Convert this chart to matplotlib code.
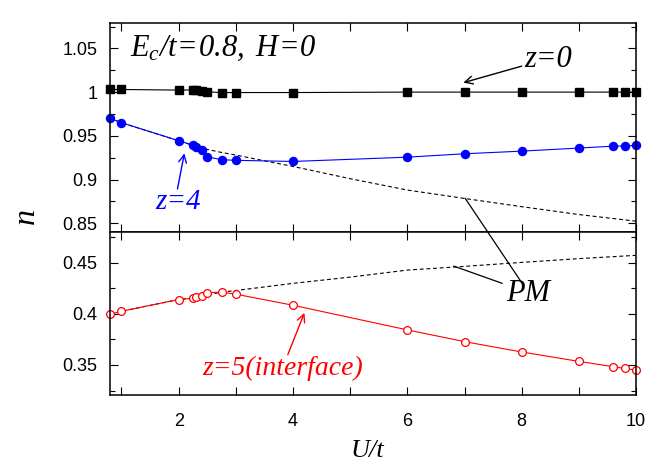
import matplotlib
matplotlib.use('Agg')
import matplotlib.pyplot as plt
from matplotlib.ticker import MultipleLocator, FixedLocator

plt.rcParams['font.family'] = 'Liberation Sans'
plt.rcParams['mathtext.fontset'] = 'custom'
plt.rcParams['mathtext.rm'] = 'Liberation Serif:italic'
plt.rcParams['mathtext.it'] = 'Liberation Serif:italic'

# data
U = [0.8, 1.0, 2.0, 2.25, 2.3, 2.4, 2.5, 2.75, 3.0, 4.0, 6.0, 7.0, 8.0, 9.0, 9.6, 9.8, 10.0]
n_z0 = [1.003, 1.003, 1.0023, 1.0025, 1.002, 1.0015, 1.0005, 0.9993, 0.9995, 0.9995,
        1.0, 1.0, 1.0, 1.0, 1.0, 1.0, 1.0]
n_z4 = [0.970, 0.965, 0.9444, 0.9394, 0.937, 0.9333, 0.926, 0.9227, 0.922, 0.9207,
        0.9256, 0.9295, 0.9325, 0.936, 0.9382, 0.9384, 0.939]
n_z5 = [0.3996, 0.4025, 0.414, 0.4153, 0.4162, 0.417, 0.4206, 0.4212, 0.4192, 0.4084,
        0.3843, 0.3728, 0.3627, 0.3535, 0.3483, 0.3466, 0.345]

U_pm = [0.8, 1.0, 2.0, 2.25, 2.5, 2.75, 3.0, 4.0, 5.0, 6.0, 7.0, 8.0, 9.0, 10.0]
pm_bulk = [0.970, 0.965, 0.9444, 0.939, 0.9345, 0.931, 0.928, 0.915, 0.901, 0.888,
           0.8784, 0.869, 0.860, 0.8524]
pm_iface = [0.3996, 0.4025, 0.414, 0.4153, 0.4185, 0.4212, 0.4228, 0.4298, 0.4359, 0.4428,
            0.4464, 0.4503, 0.454, 0.4572]

fig = plt.figure(figsize=(6.64, 4.65), dpi=100)
ax1 = fig.add_axes([0.1657, 0.501, 0.7922, 0.4495])
ax2 = fig.add_axes([0.1657, 0.1505, 0.7922, 0.3505])

dash = (0, (3.5, 2.5))
ax1.plot(U_pm, pm_bulk, color='black', lw=0.8, linestyle=dash)
ax1.plot(U, n_z0, color='black', lw=0.8, marker='s', ms=5.2, clip_on=False)
ax1.plot(U, n_z4, color='blue', lw=0.8, marker='o', ms=5.8, clip_on=False)

ax2.plot(U_pm, pm_iface, color='black', lw=0.8, linestyle=dash)
ax2.plot(U, n_z5, color='red', lw=0.8, marker='o', ms=5.6, mfc='white', mew=0.9, clip_on=False)

for ax in (ax1, ax2):
    ax.set_xlim(0.8, 10)
    ax.xaxis.set_major_locator(FixedLocator(range(1, 11)))
    ax.tick_params(which='both', direction='in', top=True, right=True, labelsize=13)
    ax.tick_params(which='major', length=6, width=0.8)
    ax.tick_params(which='minor', length=3.5, width=0.8)
    for s in ax.spines.values():
        s.set_linewidth(1.1)

ax1.set_ylim(0.84, 1.079)
ax1.set_yticks([0.85, 0.9, 0.95, 1.0, 1.05])
ax1.set_yticklabels(['0.85', '0.9', '0.95', '1', '1.05'])
ax1.yaxis.set_minor_locator(MultipleLocator(0.025))
ax1.tick_params(axis='x', labelbottom=False)
ax1.tick_params(axis='y', pad=9)

ax2.set_ylim(0.3206, 0.48)
ax2.set_yticks([0.35, 0.4, 0.45])
ax2.set_yticklabels(['0.35', '0.4', '0.45'])
ax2.yaxis.set_minor_locator(MultipleLocator(0.025))
ax2.set_xticks(range(1, 11))
ax2.set_xticklabels(['' if i % 2 else str(i) for i in range(1, 11)])
ax2.tick_params(axis='y', pad=9)
ax2.tick_params(axis='x', pad=13)

serif = dict(family='Liberation Serif', style='italic')

ax1.text(1.15, 1.042, r'$E_c/t\!=\!0.8,\ H\!=\!0$', fontsize=22)
ax1.text(8.05, 1.0375, 'z=0', fontsize=22, va='center', **serif)
ax1.annotate('', xy=(6.98, 1.0108), xytext=(8.0, 1.0297),
             arrowprops=dict(arrowstyle='->', color='black', lw=1.0,
                             mutation_scale=14, shrinkA=0, shrinkB=0))
ax1.text(2.0, 0.8745, 'z=4', fontsize=21, color='blue', ha='center', va='center', **serif)
ax1.annotate('', xy=(2.1, 0.930), xytext=(1.98, 0.8893),
             arrowprops=dict(arrowstyle='->', color='blue', lw=1.0,
                             mutation_scale=14, shrinkA=0, shrinkB=0))

ax2.text(8.12, 0.4195, 'PM', fontsize=22, ha='center', va='center', **serif)
ax2.annotate('', xy=(7.01, 0.8787), xycoords=ax1.transData,
             xytext=(8.03, 0.428), textcoords=ax2.transData,
             arrowprops=dict(arrowstyle='-', color='black', lw=0.9, shrinkA=0, shrinkB=0),
             annotation_clip=False)
ax2.annotate('', xy=(6.81, 0.4467), xytext=(7.66, 0.4298),
             arrowprops=dict(arrowstyle='-', color='black', lw=0.9, shrinkA=0, shrinkB=0))

ax2.text(3.82, 0.3465, 'z=5(interface)', fontsize=20, color='red', ha='center', va='center', **serif)
ax2.annotate('', xy=(4.2, 0.401), xytext=(3.91, 0.3601),
             arrowprops=dict(arrowstyle='->', color='red', lw=1.0,
                             mutation_scale=14, shrinkA=0, shrinkB=0))

fig.text(0.039, 0.536, 'n', fontsize=23, rotation=90, ha='center', va='center', **serif)
fig.text(0.554, 0.03, 'U/t', fontsize=19, ha='center', va='center', **serif)

fig.savefig('out.png', dpi=100)
